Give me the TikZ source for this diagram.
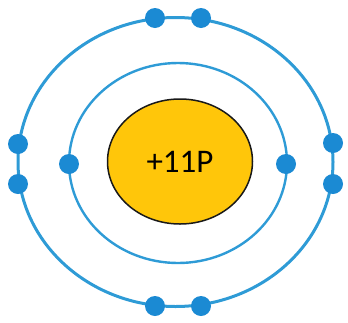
\documentclass[tikz,border=0pt]{standalone}
\usepackage{fontspec}
\setmainfont{Carlito}
\usetikzlibrary{shapes.geometric}
\definecolor{ring}{HTML}{2E9BD6}
\definecolor{elec}{HTML}{1B8AD3}
\definecolor{gold}{HTML}{FFC60A}
\begin{document}
\begin{tikzpicture}[x=1pt,y=-1pt,
  orbit/.style={draw=ring},
  electron/.style={circle,fill=elec,inner sep=0pt,minimum width=20pt,minimum height=19pt},
  nucleus/.style={ellipse,draw=black!90,line width=1.5pt,fill=gold,minimum width=145pt,minimum height=125pt,inner sep=0pt,font=\fontsize{33}{40}\selectfont}]
\useasboundingbox (0,0) rectangle (348,322);
\draw[orbit,line width=3pt] (175.5,162) ellipse [x radius=157.5, y radius=144.5];
\draw[orbit,line width=2.4pt] (178,163) ellipse [x radius=109, y radius=100];
\node[nucleus] (nuc) at (180,161.5) {+11P};
\node[electron] (e1) at (155,18) {};
\node[electron] (e2) at (201,18) {};
\node[electron] (e3) at (155,306) {};
\node[electron] (e4) at (201,306) {};
\node[electron] (e5) at (18,144) {};
\node[electron] (e6) at (18,184) {};
\node[electron] (e7) at (333,143) {};
\node[electron] (e8) at (333,184) {};
\node[electron] (e9) at (69,164) {};
\node[electron] (e10) at (286,164) {};
\end{tikzpicture}
\end{document}
